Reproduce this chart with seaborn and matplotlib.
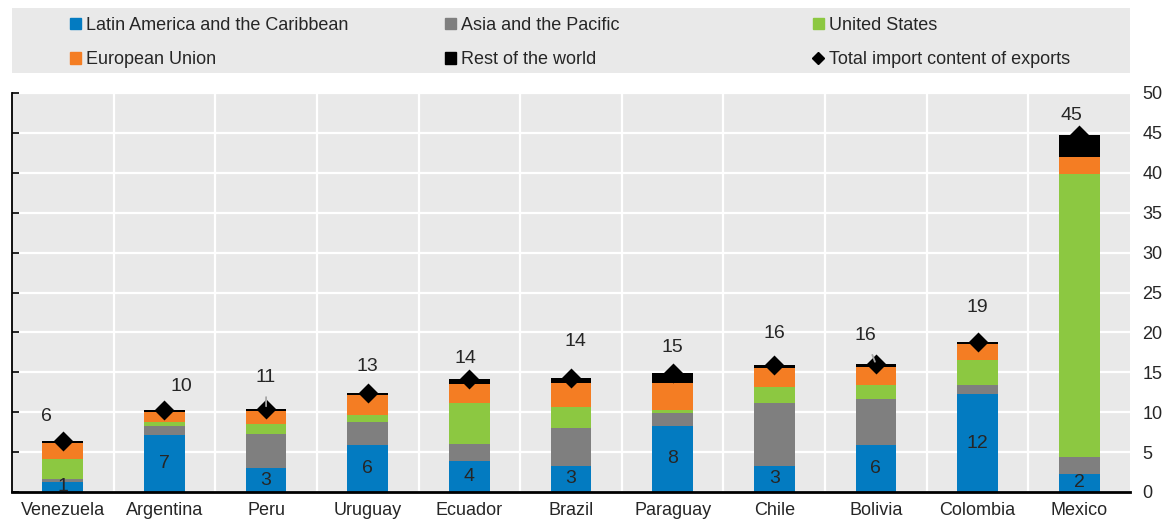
import numpy as np
import pandas as pd
import matplotlib
matplotlib.use('Agg')
import matplotlib.pyplot as plt
from matplotlib import font_manager
from matplotlib.patches import Patch, Rectangle
from matplotlib.lines import Line2D
import seaborn as sns

# data (% of gross exports)
countries = ['Venezuela', 'Argentina', 'Peru', 'Uruguay', 'Ecuador', 'Brazil',
             'Paraguay', 'Chile', 'Bolivia', 'Colombia', 'Mexico']
latam = [1.3, 7.2, 3.0, 5.9, 3.9, 3.3, 8.3, 3.3, 5.9, 12.25, 2.3]
asia = [0.3, 1.1, 4.3, 2.9, 2.1, 4.7, 1.6, 7.8, 5.7, 1.15, 2.1]
usa = [2.5, 0.5, 1.2, 0.9, 5.1, 2.6, 0.4, 2.0, 1.8, 3.2, 35.4]
eu = [2.1, 1.2, 1.7, 2.4, 2.4, 3.1, 3.4, 2.4, 2.3, 2.0, 2.2]
rest = [0.2, 0.25, 0.2, 0.3, 0.6, 0.55, 1.2, 0.4, 0.3, 0.15, 2.7]
latam_labels = ['1', '7', '3', '6', '4', '3', '8', '3', '6', '12', '2']
total_labels = ['6', '10', '11', '13', '14', '14', '15', '16', '16', '19', '45']

series_names = ['Latin America and the Caribbean', 'Asia and the Pacific', 'United States',
                'European Union', 'Rest of the world']
colors = {'Latin America and the Caribbean': '#037bc1', 'Asia and the Pacific': '#7f7f7f',
          'United States': '#8cc841', 'European Union': '#f47d23', 'Rest of the world': '#000000'}

# label placement (pixels from the marker) and which labels get a leader line
label_offsets = [(-16, 24), (17, 24), (0, 32), (0, 27), (-4, 21), (4, 37),
                 (0, 26), (0, 32), (-11, 29), (0, 35), (-8, 20)]
leader = [False, False, True, False, False, False, False, False, True, False, False]

sns.set_style('white')
names = {f.name for f in font_manager.fontManager.ttflist}
base_font = 'Liberation Sans Narrow' if 'Liberation Sans Narrow' in names else 'Liberation Sans'
plt.rcParams['font.family'] = [base_font, 'DejaVu Sans']
FS = 13
plt.rcParams['font.size'] = FS

df = pd.DataFrame({'country': countries, series_names[0]: latam, series_names[1]: asia,
                   series_names[2]: usa, series_names[3]: eu, series_names[4]: rest})
stack = df[series_names].cumsum(axis=1)
total = stack[series_names[-1]].values

W, H = 1164, 520
fig = plt.figure(figsize=(W / 100, H / 100), dpi=100)
ax = fig.add_axes([12 / W, 1 - 492 / H, (1130 - 12) / W, (492 - 93) / H])
ax.set_facecolor('#e9e9e9')
ax.set_axisbelow(True)

# stacked bars: draw cumulative heights from the top layer down
for name in reversed(series_names):
    sns.barplot(x=df['country'], y=stack[name], color=colors[name], width=0.4,
                saturation=1, linewidth=0, ax=ax)

sns.pointplot(x=df['country'], y=total, color='black', marker='D', markersize=8,
              linestyle='none', errorbar=None, ax=ax, zorder=5)

for i in range(len(countries)):
    ax.text(i, latam[i] / 2, latam_labels[i], ha='center', va='center', fontsize=FS + 1, zorder=6)
    arrow = dict(arrowstyle='-', color='#a6a6a6', lw=1.3, shrinkA=6, shrinkB=2) if leader[i] else None
    ax.annotate(total_labels[i], xy=(i, total[i]), xytext=label_offsets[i],
                textcoords='offset pixels', ha='center', va='center', fontsize=FS + 1,
                arrowprops=arrow, zorder=6)

ax.set_xlim(-0.5, len(countries) - 0.5)
ax.set_ylim(0, 50)
ax.set_yticks(np.arange(0, 51, 5))
ax.set_xticks(np.arange(len(countries)))
ax.set_xticklabels(countries)
ax.set_xticks(np.arange(len(countries) - 1) + 0.5, minor=True)
ax.set_xlabel('')
ax.set_ylabel('')

ax.tick_params(axis='x', which='major', length=0, pad=7, labelsize=FS)
ax.tick_params(axis='x', which='minor', direction='in', length=6, width=1.5, color='black')
ax.tick_params(axis='y', which='major', direction='in', length=5, width=1.2, color='black',
               left=True, right=False, labelleft=False, labelright=True, pad=9, labelsize=FS)
ax.grid(axis='x', which='minor', color='white', lw=1.6)
ax.grid(axis='y', which='major', color='white', lw=1.6)

for side in ['top', 'right']:
    ax.spines[side].set_visible(False)
ax.spines['left'].set_color('black')
ax.spines['left'].set_linewidth(1.3)
ax.spines['bottom'].set_color('black')
ax.spines['bottom'].set_linewidth(2)

# legend panel
fig.add_artist(Rectangle((12 / W, 1 - 73 / H), (1130 - 12) / W, (73 - 8) / H,
                         transform=fig.transFigure, facecolor='#e9e9e9', edgecolor='none', zorder=0))
diamond = Line2D([], [], marker='D', color='black', linestyle='none', markersize=6)
columns = [
    ([Patch(color=colors[series_names[0]]), Patch(color=colors[series_names[3]])],
     [series_names[0], series_names[3]], 70),
    ([Patch(color=colors[series_names[1]]), Patch(color=colors[series_names[4]])],
     [series_names[1], series_names[4]], 445),
    ([Patch(color=colors[series_names[2]]), diamond],
     [series_names[2], 'Total import content of exports'], 813),
]
for handles, labels, xpix in columns:
    fig.legend(handles, labels, loc='upper left', bbox_to_anchor=(xpix / W, 1 - 17 / H),
               frameon=False, borderaxespad=0, borderpad=0, handlelength=0.6,
               handleheight=0.6, handletextpad=0.3, labelspacing=0.95, fontsize=FS)

fig.savefig('out.png', dpi=100)
